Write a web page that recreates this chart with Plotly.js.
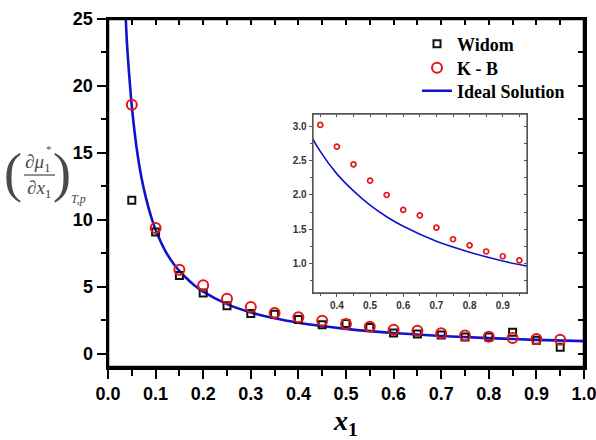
<!DOCTYPE html>
<html>
<head>
<meta charset="utf-8">
<script src="https://cdn.plot.ly/plotly-3.0.1.min.js"></script>
<style>html,body{margin:0;padding:0;background:#fff;}#chart{width:596px;height:440px;}</style>
</head>
<body>
<div id="chart"></div>
<script>
// ---- data ----
const xPoints = [0.05,0.10,0.15,0.20,0.25,0.30,0.35,0.40,0.45,0.50,0.55,0.60,0.65,0.70,0.75,0.80,0.85,0.90,0.95];
const yWidom  = [11.45,9.08,5.84,4.53,3.58,2.99,2.95,2.54,2.16,2.25,1.95,1.54,1.47,1.39,1.25,1.25,1.59,0.99,0.47];
const yKB     = [18.6,9.38,6.27,5.10,4.10,3.49,3.03,2.71,2.45,2.21,2.00,1.78,1.70,1.52,1.35,1.26,1.17,1.10,1.04];
const xIdeal  = [0.037,0.040,0.045,0.050,0.060,0.070,0.080,0.090,0.10,0.12,0.14,0.16,0.18,0.20,0.25,0.30,0.35,0.40,0.45,0.50,0.55,0.60,0.70,0.80,0.90,1.00];
const yIdeal  = [25.3,23.1,20.6,18.5,15.4,13.2,11.6,10.3,9.25,7.7,6.6,5.8,5.15,4.63,3.7,3.08,2.64,2.31,2.06,1.85,1.68,1.54,1.32,1.16,1.03,0.93];
const seriesNames = ['Widom','K - B','Ideal Solution'];

// pixel -> paper helpers (plot area: left 108, top 19, width 476, height 348)
const P = px => (px - 108) / 476;
const Q = py => (367 - py) / 348;

const RED = 'rgb(228,22,22)';
const BLUE = 'rgb(18,18,205)';
const labelFont = {family:'Liberation Sans, Arial, sans-serif', size:18, color:'#000', weight:'bold'};
const insetFont = {family:'Liberation Sans, Arial, sans-serif', size:10, color:'#333', weight:'bold'};
const greek = {family:'Liberation Serif, Times New Roman, serif', color:'#4a4a4a'};
const legFont = {family:'Liberation Serif, Times New Roman, serif', size:18, color:'#000', weight:'bold'};
const legBox = (py) => ({x:P(417), y:Q(py), xanchor:'left', yanchor:'middle', bgcolor:'rgba(0,0,0,0)', font:legFont});

const XR = [-0.00001, 1.00001], YR = [-1, 25];
const IXR = [0.328, 0.973], IYR = [0.56, 3.19];

const traces = [
  {x:xIdeal, y:yIdeal, name:seriesNames[2], mode:'lines', line:{color:BLUE, width:2.6, shape:'spline'}, legend:'legend3', xaxis:'x', yaxis:'y'},
  {x:xPoints, y:yWidom, name:seriesNames[0], mode:'markers', marker:{symbol:'square-open', size:7, color:'#111', line:{width:2, color:'#111'}}, legend:'legend', xaxis:'x', yaxis:'y'},
  {x:xPoints, y:yKB, name:seriesNames[1], mode:'markers', marker:{symbol:'circle-open', size:10, color:RED, line:{width:2, color:RED}}, legend:'legend2', xaxis:'x', yaxis:'y'},
  // inset
  {x:xIdeal, y:yIdeal, mode:'lines', line:{color:BLUE, width:1.6, shape:'spline'}, showlegend:false, xaxis:'x3', yaxis:'y3'},
  {x:xPoints, y:yKB, mode:'markers', marker:{symbol:'circle-open', size:5, color:RED, line:{width:1.7, color:RED}}, showlegend:false, xaxis:'x3', yaxis:'y3'},
  // empty carriers so the mirrored tick axes (top / right) are drawn
  {x:[null], y:[null], mode:'markers', showlegend:false, xaxis:'x2', yaxis:'y'},
  {x:[null], y:[null], mode:'markers', showlegend:false, xaxis:'x', yaxis:'y2'},
  {x:[null], y:[null], mode:'markers', showlegend:false, xaxis:'x4', yaxis:'y3'},
  {x:[null], y:[null], mode:'markers', showlegend:false, xaxis:'x3', yaxis:'y4'}
];

const mirrorAx = (o) => Object.assign({showticklabels:false, showgrid:false, zeroline:false, showline:false, ticks:'inside'}, o);

const layout = {
  width:596, height:440,
  margin:{l:108, r:12, t:19, b:73},
  paper_bgcolor:'#fff', plot_bgcolor:'#fff',
  showlegend:true,
  legend:legBox(44),
  legend2:legBox(68),
  legend3:legBox(91),
  xaxis:{range:XR, tick0:0, dtick:0.1, tickformat:'.1f', ticks:'outside', ticklen:9, tickwidth:2, tickcolor:'#000',
         minor:{dtick:0.05, tick0:0, ticks:'outside', ticklen:6, tickwidth:2, tickcolor:'#000'},
         showline:true, mirror:true, linewidth:2.5, linecolor:'#000', showgrid:false, zeroline:false,
         tickfont:labelFont, ticklabeloverflow:'allow',
         title:{text:'<i>x</i><sub>1</sub>', font:{family:'Liberation Serif, Times New Roman, serif', size:28, color:'#000', weight:'bold'}, standoff:10}},
  yaxis:{range:YR, tick0:0, dtick:5, ticks:'outside', ticklen:9, tickwidth:2, tickcolor:'#000',
         minor:{dtick:2.5, tick0:0, ticks:'outside', ticklen:5, tickwidth:2, tickcolor:'#000'},
         showline:true, mirror:true, linewidth:2.5, linecolor:'#000', showgrid:false, zeroline:false,
         tickfont:labelFont},
  xaxis2:mirrorAx({overlaying:'x', anchor:'y', side:'top', range:XR, tick0:0, dtick:0.05, ticklen:6, tickwidth:2, tickcolor:'#000'}),
  yaxis2:mirrorAx({overlaying:'y', anchor:'x', side:'right', range:YR, tick0:0, dtick:2.5, ticklen:6, tickwidth:2, tickcolor:'#000'}),
  // inset
  xaxis3:{domain:[P(313), P(527)], anchor:'y3', range:IXR, tick0:0, dtick:0.1, tickformat:'.1f', ticks:'outside', ticklen:3, tickwidth:1, tickcolor:'#555',
          minor:{dtick:0.05, tick0:0, ticks:'outside', ticklen:2, tickwidth:1, tickcolor:'#555'},
          showline:true, mirror:true, linewidth:1.3, linecolor:'#555', showgrid:false, zeroline:false, tickfont:insetFont},
  yaxis3:{domain:[Q(293), Q(114)], anchor:'x3', range:IYR, tick0:0, dtick:0.5, tickformat:'.1f', ticks:'outside', ticklen:3, tickwidth:1, tickcolor:'#555',
          minor:{dtick:0.25, tick0:0, ticks:'outside', ticklen:2, tickwidth:1, tickcolor:'#555'},
          showline:true, mirror:true, linewidth:1.3, linecolor:'#555', showgrid:false, zeroline:false, tickfont:insetFont},
  xaxis4:mirrorAx({overlaying:'x3', anchor:'y3', side:'top', range:IXR, tick0:0, dtick:0.05, ticklen:3, tickwidth:1, tickcolor:'#555'}),
  yaxis4:mirrorAx({overlaying:'y3', anchor:'x3', side:'right', range:IYR, tick0:0, dtick:0.25, ticklen:3, tickwidth:1, tickcolor:'#555'}),
  shapes:[
    // main frame (top/right sides)
    {type:'rect', xref:'x domain', yref:'y domain', x0:0, x1:1, y0:0, y1:1, line:{color:'#000', width:2.5}, layer:'above'},
    {type:'rect', xref:'x3 domain', yref:'y3 domain', x0:0, x1:1, y0:0, y1:1, line:{color:'#555', width:1.3}, layer:'above'},
    // fraction bar of the y-axis label
    {type:'line', xref:'paper', yref:'paper', x0:P(24), x1:P(55), y0:Q(175), y1:Q(175), line:{color:'#4a4a4a', width:1.2}}
  ],
  annotations:[
    {text:'(', x:P(13), y:Q(173), font:Object.assign({size:54}, greek)},
    {text:')', x:P(62), y:Q(173), font:Object.assign({size:54}, greek)},
    {text:'∂<i>μ</i><sub>1</sub>', x:P(38), y:Q(163), font:Object.assign({size:19}, greek)},
    {text:'*', x:P(49), y:Q(149), font:Object.assign({size:11}, greek)},
    {text:'∂<i>x</i><sub>1</sub>', x:P(39), y:Q(189), font:Object.assign({size:19}, greek)},
    {text:'<i>T</i><i>,p</i>', x:P(78), y:Q(199), font:Object.assign({size:12}, greek)}
  ].map(a => Object.assign({xref:'paper', yref:'paper', showarrow:false, xanchor:'center', yanchor:'middle'}, a))
};

Plotly.newPlot('chart', traces, layout, {displayModeBar:false, staticPlot:true});
</script>
</body>
</html>
